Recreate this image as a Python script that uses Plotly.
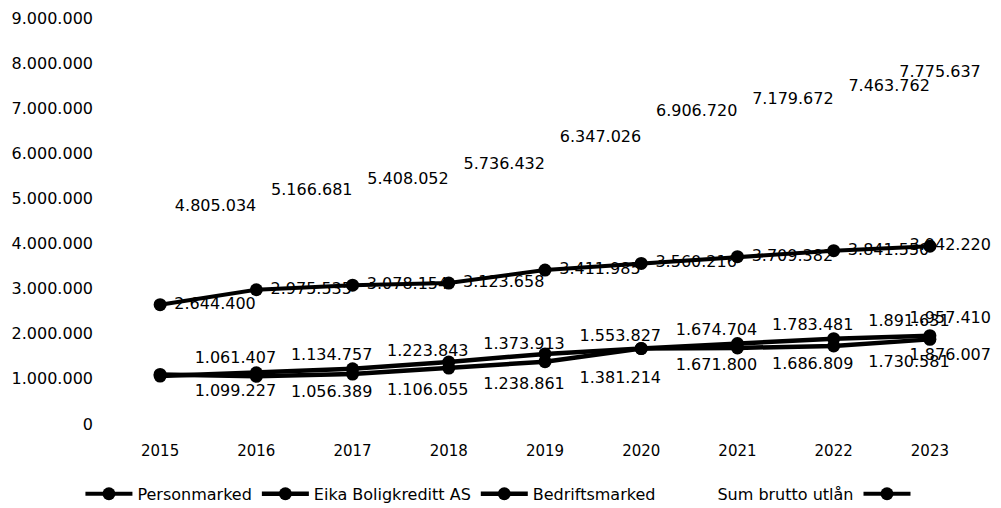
import plotly.graph_objects as go

years = ["2015", "2016", "2017", "2018", "2019", "2020", "2021", "2022", "2023"]
personmarked = [2644400, 2975535, 3078154, 3123658, 3411985, 3560216, 3709382, 3841550, 3942220]
eika = [1061407, 1134757, 1223843, 1373913, 1553827, 1674704, 1783481, 1891631, 1957410]
bedriftsmarked = [1099227, 1056389, 1106055, 1238861, 1381214, 1671800, 1686809, 1730581, 1876007]
sum_brutto = [4805034, 5166681, 5408052, 5736432, 6347026, 6906720, 7179672, 7463762, 7775637]
y_ticks = [0, 1000000, 2000000, 3000000, 4000000, 5000000, 6000000, 7000000, 8000000, 9000000]

NB = "\u00a0"


def fmt(v):
    return f"{v:,}".replace(",", ".")


def labels(values, pad_mid, pad_last):
    out = [NB * pad_mid + fmt(v) for v in values[:-1]]
    out.append(NB * pad_last + fmt(values[-1]))
    return out


FONT = "DejaVu Sans"
BLACK = "#000000"
LBL = dict(family=FONT, size=16, color=BLACK)

fig = go.Figure()
n = len(years)

fig.add_trace(go.Scatter(
    x=years, y=personmarked, name="Personmarked", mode="lines+markers+text",
    line=dict(color=BLACK, width=4), marker=dict(color=BLACK, size=13),
    text=labels(personmarked, 1, 8),
    textposition=["middle right"] * (n - 1) + ["middle center"],
    textfont=LBL, cliponaxis=False,
))
fig.add_trace(go.Scatter(
    x=years, y=eika, name="Eika Boligkreditt AS", mode="lines+markers+text",
    line=dict(color=BLACK, width=4.5), marker=dict(color=BLACK, size=13),
    text=labels(eika, 5, 8),
    textposition=["top right"] * (n - 1) + ["top center"],
    textfont=LBL, cliponaxis=False,
))
fig.add_trace(go.Scatter(
    x=years, y=bedriftsmarked, name="Bedriftsmarked", mode="lines+markers+text",
    line=dict(color=BLACK, width=4.5), marker=dict(color=BLACK, size=13),
    text=labels(bedriftsmarked, 5, 8),
    textposition=["bottom right"] * (n - 1) + ["bottom center"],
    textfont=LBL, cliponaxis=False,
))
fig.add_trace(go.Scatter(
    x=years, y=sum_brutto, name="Sum brutto utlån", mode="markers+text",
    marker=dict(color="rgba(0,0,0,0)", size=22),
    text=labels(sum_brutto, 0, 4),
    textposition=["middle right"] * (n - 1) + ["middle center"],
    textfont=LBL, cliponaxis=False,
))
fig.add_trace(go.Scatter(
    x=[None], y=[None], name=" ", mode="lines+markers",
    line=dict(color=BLACK, width=4), marker=dict(color=BLACK, size=13),
))

fig.update_layout(
    width=993, height=500,
    margin=dict(l=104, r=23, t=10, b=84, autoexpand=False),
    paper_bgcolor="white", plot_bgcolor="white",
    separators=",.",
    font=dict(family=FONT, size=16, color=BLACK),
    showlegend=True,
    legend=dict(orientation="h", x=0.452, xanchor="center", y=-0.172, yanchor="middle",
                font=dict(family=FONT, size=16, color=BLACK), itemwidth=47,
                traceorder="normal"),
    xaxis=dict(type="category", range=[-0.5, 8.5], showgrid=False, showline=False,
               zeroline=False, ticks="", ticklabelstandoff=16,
               tickfont=dict(family=FONT, size=15, color=BLACK)),
    yaxis=dict(range=[0, 9000000], tickvals=y_ticks, tickformat=",d",
               showgrid=False, showline=False, zeroline=False, ticks="",
               ticklabelstandoff=18,
               tickfont=dict(family=FONT, size=16, color=BLACK)),
)

fig.write_html("out.html")
